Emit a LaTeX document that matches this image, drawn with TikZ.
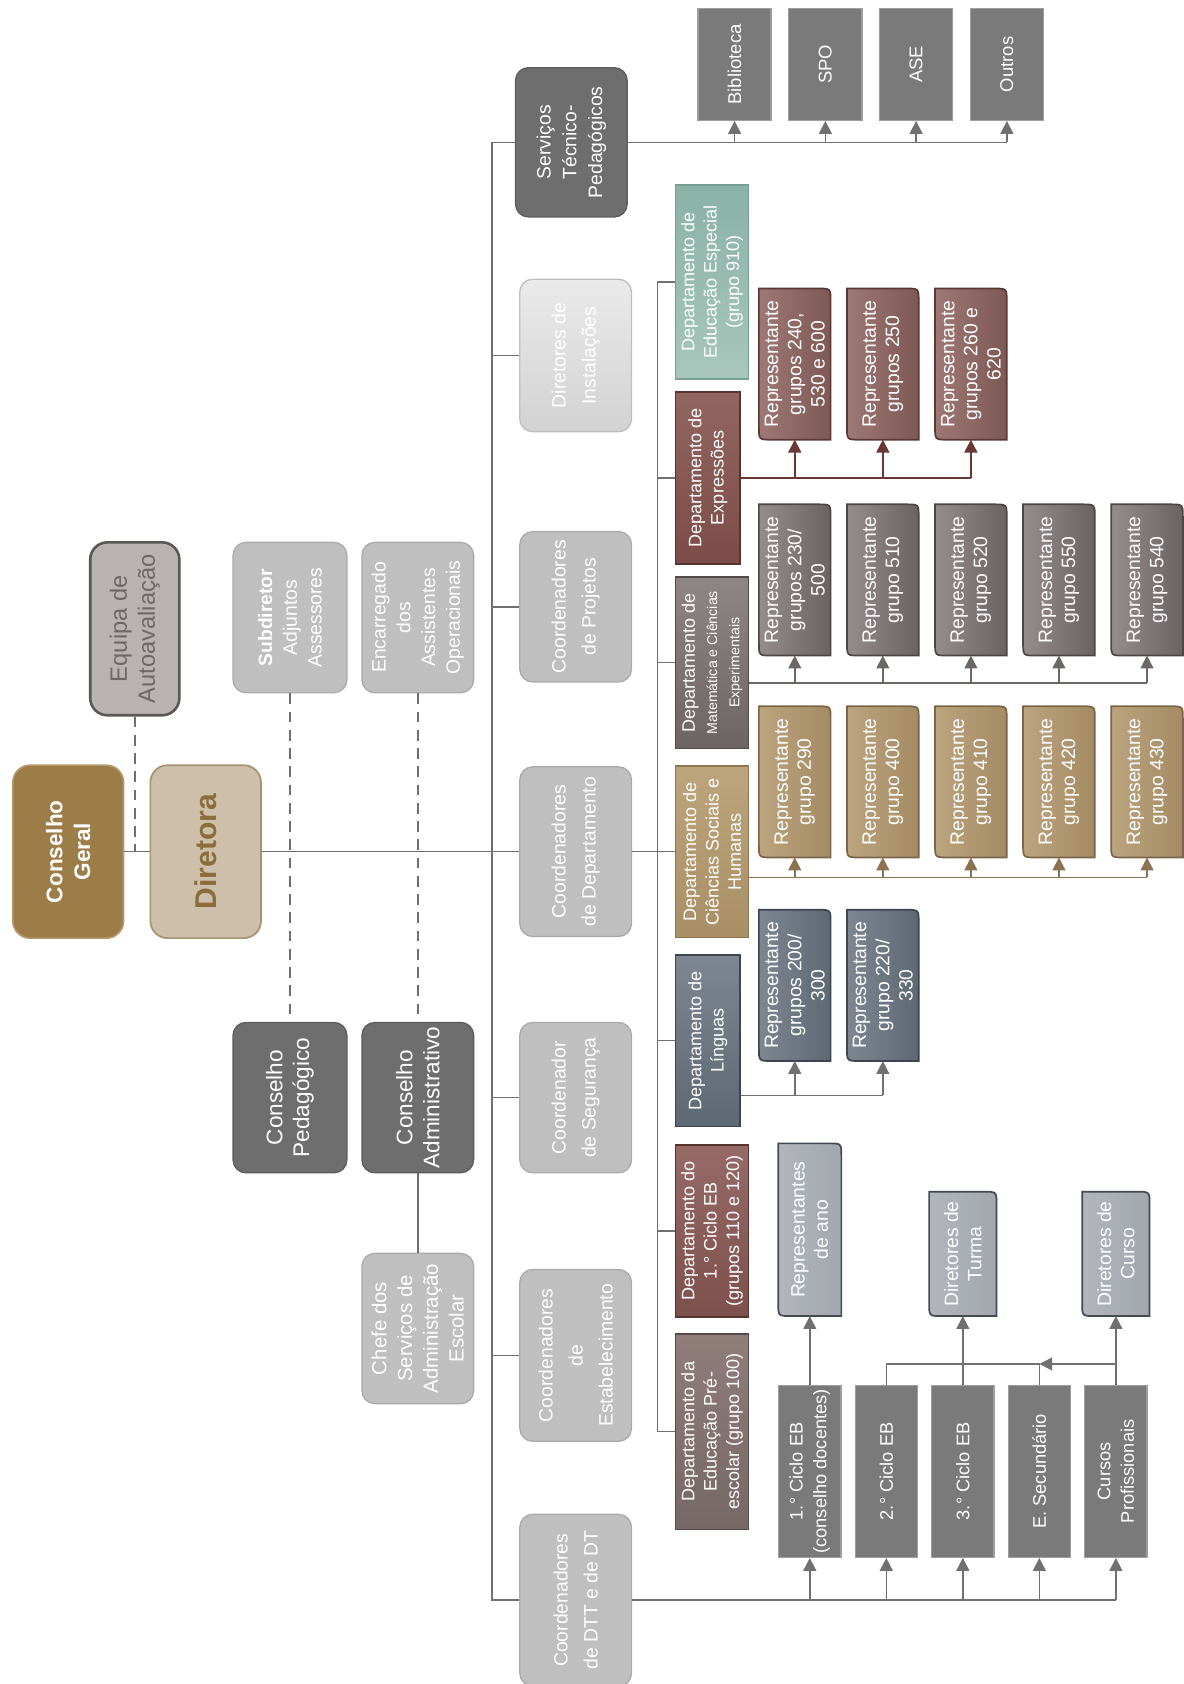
\documentclass[tikz,border=0pt]{standalone}
\usepackage{fontspec}
\setmainfont{Liberation Sans}
\usetikzlibrary{arrows.meta}
\usetikzlibrary{calc}
\usetikzlibrary{backgrounds}

\definecolor{lncol}{HTML}{707070}
\definecolor{cgfill}{HTML}{9C7C47}
\definecolor{cgdraw}{HTML}{B39869}
\definecolor{dirfill}{HTML}{CDBFA9}
\definecolor{dirdraw}{HTML}{A69372}
\definecolor{dirtext}{HTML}{8B6D3B}
\definecolor{eqfill}{HTML}{B8B2B0}
\definecolor{eqdraw}{HTML}{5C5754}
\definecolor{eqtext}{HTML}{6D6765}
\definecolor{ltfill}{HTML}{BFBFBF}
\definecolor{ltdraw}{HTML}{AAAAAA}
\definecolor{instA}{HTML}{EAEAEA}
\definecolor{instB}{HTML}{D2D2D2}
\definecolor{instD}{HTML}{BEBEBE}
\definecolor{dkfill}{HTML}{6E6E6E}
\definecolor{dkdraw}{HTML}{5C5C5C}
\definecolor{sqfill}{HTML}{7A7A7A}
\definecolor{sqdraw}{HTML}{9E9E9E}
\definecolor{tealA}{HTML}{8AB2A6}
\definecolor{tealB}{HTML}{A8C6BC}
\definecolor{tealD}{HTML}{76A093}
\definecolor{exA}{HTML}{936560}
\definecolor{exB}{HTML}{7B4C48}
\definecolor{exD}{HTML}{58332F}
\definecolor{rrA}{HTML}{9E7874}
\definecolor{rrB}{HTML}{7E5854}
\definecolor{rrD}{HTML}{5A3935}
\definecolor{redln}{HTML}{6A3833}
\definecolor{matA}{HTML}{8E8684}
\definecolor{matB}{HTML}{6D6563}
\definecolor{matD}{HTML}{524B49}
\definecolor{rmA}{HTML}{958D8B}
\definecolor{rmB}{HTML}{6B6361}
\definecolor{rmD}{HTML}{4C4644}
\definecolor{matln}{HTML}{6C6664}
\definecolor{tanA}{HTML}{BCA47C}
\definecolor{tanB}{HTML}{A88F66}
\definecolor{tanD}{HTML}{8E7550}
\definecolor{rtA}{HTML}{BBA47E}
\definecolor{rtB}{HTML}{A48B64}
\definecolor{rtD}{HTML}{7A6546}
\definecolor{tanln}{HTML}{8B7351}
\definecolor{slA}{HTML}{7E8791}
\definecolor{slB}{HTML}{5E6872}
\definecolor{slD}{HTML}{3D4550}
\definecolor{cyA}{HTML}{966A66}
\definecolor{cyB}{HTML}{7D504C}
\definecolor{cyD}{HTML}{58342F}
\definecolor{prA}{HTML}{8F7D7A}
\definecolor{prB}{HTML}{756866}
\definecolor{prD}{HTML}{574B49}
\definecolor{bgA}{HTML}{B2B6BC}
\definecolor{bgB}{HTML}{A2A7AE}
\definecolor{bgD}{HTML}{434A53}

\tikzset{
  vbox/.style={rotate=90, align=center, inner sep=1pt, text=white, font=\fontsize{9}{11.5}\selectfont},
  wh/.style 2 args={minimum height={#1*0.5pt}, minimum width={#2*0.5pt}},
  ltbox/.style={vbox, rounded corners=6pt, fill=ltfill, draw=ltdraw, line width=0.6pt},
  cobox/.style={ltbox, font=\fontsize{9}{14}\selectfont},
  dkbox/.style={vbox, rounded corners=6pt, fill=dkfill, draw=dkdraw, line width=0.6pt},
  sqbox/.style={vbox, fill=sqfill, draw=sqdraw, line width=0.6pt, font=\fontsize{8.6}{11}\selectfont},
  dept/.style 2 args={vbox, top color=#1, bottom color=#2, line width=0.8pt, font=\fontsize{8.4}{10.4}\selectfont},
  rep/.style={vbox, wh={66}{140}, font=\fontsize{9}{10.8}\selectfont},
  ln/.style={draw=lncol, line width=0.7pt},
  arr/.style={ln, -{Triangle[length=6pt,width=6pt]}},
  dsh/.style={ln, dash pattern=on 5pt off 3.5pt},
}

% diagonal corners rounded (top right, bottom left)
\newcommand{\repshape}[4]{%
  \shade[left color=#2, right color=#3, draw=#4, line width=0.8pt]
    (#1.north east) -- ($(#1.south east)+(-12,0)$) .. controls (#1.south east) .. ($(#1.south east)+(0,12)$)
    -- (#1.south west) -- ($(#1.north west)+(12,0)$) .. controls (#1.north west) .. ($(#1.north west)+(0,-12)$) -- cycle;}

\begin{document}
\begin{tikzpicture}[x=0.5pt, y=-0.5pt,
    cgbox/.style={vbox, wh={103}{161}, rounded corners=8pt, fill=cgfill, draw=cgdraw, line width=0.8pt, font=\fontsize{10.5}{13}\selectfont\bfseries},
    dirbox/.style={vbox, wh={103}{161}, rounded corners=8pt, fill=dirfill, draw=dirdraw, line width=0.8pt, text=dirtext, font=\fontsize{14}{16}\selectfont\bfseries},
    eqbox/.style={vbox, wh={83}{161}, rounded corners=8pt, fill=eqfill, draw=eqdraw, line width=1.2pt, text=eqtext, font=\fontsize{11}{13}\selectfont}]

  \useasboundingbox (0,0) rectangle (1102,1568);

  % direction
  \node[cgbox] (cg) at (63.5,793) {Conselho\\Geral};
  \node[dirbox] (dir) at (191.5,793) {Diretora};
  \node[eqbox] (equipa) at (125.5,585.5) {Equipa de\\Autoavaliação};
  \node[ltbox, wh={106}{140}] (subdir) at (270,575) {\textbf{Subdiretor}\\Adjuntos\\Assessores};
  \node[ltbox, wh={104}{140}] (encarr) at (389,575) {Encarregado\\dos\\Assistentes\\Operacionais};
  \node[dkbox, wh={106}{140}, font=\fontsize{10.5}{12.5}\selectfont] (cped) at (270,1022) {Conselho\\Pedagógico};
  \node[dkbox, wh={104}{140}, font=\fontsize{10.5}{12.5}\selectfont] (cadm) at (389,1022) {Conselho\\Administrativo};
  \node[ltbox, wh={104}{140}, font=\fontsize{9.5}{12}\selectfont] (chefe) at (389,1237) {Chefe dos\\Serviços de\\Administração\\Escolar};

  % coordenadores
  \coordinate (b1) at (458,0);
  \node[dkbox, wh={104}{139}, font=\fontsize{9}{12}\selectfont] (serv) at (532,132.5) {Serviços\\Técnico-\\Pedagógicos};
  \node[cobox, wh={104}{142}, top color=instA, bottom color=instB, draw=instD] (dinst) at (536,331) {Diretores de\\Instalações};
  \node[cobox, wh={104}{140}] (cproj) at (536,565) {Coordenadores\\de Projetos};
  \node[cobox, wh={104}{158}] (cdep) at (536,793) {Coordenadores\\de Departamento};
  \node[cobox, wh={104}{140}] (cseg) at (536,1022) {Coordenador\\de Segurança};
  \node[cobox, wh={104}{160}] (cest) at (536,1262) {Coordenadores\\de\\Estabelecimento};
  \node[cobox, wh={104}{160}] (cdtt) at (536,1490) {Coordenadores\\de DTT e de DT};

  \foreach \t/\n [count=\i] in {Biblioteca/bib,SPO/spo,ASE/ase,Outros/outros}
    \node[sqbox, wh={68}{104}] (\n) at ({684+84.5*(\i-1)},60) {\t};

  % departamentos
  \coordinate (b2) at (612,0);
  \node[dept={tealA}{tealB}, draw=tealD, wh={68}{181}] (edesp) at (663,262.5) {Departamento de\\Educação Especial\\(grupo 910)};
  \node[dept={exA}{exB}, draw=exD, wh={60}{160}] (expr) at (659,445) {Departamento de\\Expressões};
  \node[dept={matA}{matB}, draw=matD, wh={68}{160}] (mat) at (663,617) {Departamento de\\\fontsize{6.6}{8.5}\selectfont Matemática e Ciências\\\fontsize{6.6}{8.5}\selectfont Experimentais};
  \node[dept={tanA}{tanB}, draw=tanD, wh={68}{160}] (csh) at (663,793) {Departamento de\\Ciências Sociais e\\Humanas};
  \node[dept={slA}{slB}, draw=slD, wh={60}{160}] (ling) at (659,969) {Departamento de\\Línguas};
  \node[dept={cyA}{cyB}, draw=cyD, wh={68}{160}] (cic1) at (663,1146) {Departamento do\\1.° Ciclo EB\\(grupos 110 e 120)};
  \node[dept={prA}{prB}, draw=prD, wh={68}{182}] (pre) at (663,1333) {Departamento da\\Educação Pré-\\escolar (grupo 100)};

  % representantes
  \foreach \g [count=\i] in {{grupos 240,\\530 e 600},{grupos 250},{grupos 260 e\\620}}
    \node[rep] (rE\i) at ({740+82*(\i-1)},339) {Representante\\\g};
  \foreach \g [count=\i] in {{grupos 230/\\500},{grupo 510},{grupo 520},{grupo 550},{grupo 540}}
    \node[rep] (rM\i) at ({740+82*(\i-1)},540) {Representante\\\g};
  \foreach \g [count=\i] in {290,400,410,420,430}
    \node[rep] (rH\i) at ({740+82*(\i-1)},728) {Representante\\grupo \g};
  \foreach \g [count=\i] in {{grupos 200/\\300},{grupo 220/\\330}}
    \node[rep] (rL\i) at ({740+82*(\i-1)},917.5) {Representante\\\g};

  \node[rep, wh={58}{160}] (rano) at (754,1145) {Representantes\\de ano};
  \node[rep, wh={62}{115}] (dturma) at (896.5,1167.5) {Diretores de\\Turma};
  \node[rep, wh={62}{115}] (dcurso) at (1039,1167.5) {Diretores de\\Curso};

  \foreach \t [count=\i] in {{1.° Ciclo EB\\(conselho docentes)},{2.° Ciclo EB},{3.° Ciclo EB},{E. Secundário},{Cursos\\Profissionais}}
    \node[sqbox, wh={58}{160}, font=\fontsize{8.5}{11}\selectfont] (L\i) at ({754+71.25*(\i-1)},1370) {\t};

  % main line
  \draw[ln] (cg) -- (dir);
  \draw[ln] (dir) -- (cdep);
  \draw[ln] (cdep) -- (csh);
  \draw[dsh] (equipa) -- (equipa |- cg);
  \draw[dsh] (subdir) -- (cped);
  \draw[dsh] (encarr) -- (cadm);
  \draw[ln] (cadm) -- (chefe);

  \draw[ln] (serv.north) -- (serv.north -| b1) -- (cdtt.north -| b1) -- (cdtt.north);
  \foreach \n in {dinst,cproj,cseg,cest}
    \draw[ln] (\n.north -| b1) -- (\n.north);

  \draw[ln] (serv) -- (outros |- serv);
  \foreach \n in {bib,spo,ase,outros}
    \draw[arr] (\n |- serv) -- (\n);

  \draw[ln] (edesp.north) -- (edesp.north -| b2) -- (pre.north -| b2) -- (pre.north);
  \foreach \n in {expr,mat,ling,cic1}
    \draw[ln] (\n.north -| b2) -- (\n.north);

  % representantes connectors
  \draw[ln, draw=redln, line width=1pt] (expr) -- (rE3 |- expr);
  \foreach \i in {1,2,3}
    \draw[arr, draw=redln, line width=1pt] (rE\i |- expr) -- (rE\i);

  \coordinate (mline) at (0,636);
  \draw[ln, draw=matln] (mat.south |- mline) -- (rM5 |- mline);
  \foreach \i in {1,...,5}
    \draw[arr, draw=matln] (rM\i |- mline) -- (rM\i);

  \coordinate (hline) at (0,817);
  \draw[ln, draw=tanln] (csh.south |- hline) -- (rH5 |- hline);
  \foreach \i in {1,...,5}
    \draw[arr, draw=tanln] (rH\i |- hline) -- (rH\i);

  \coordinate (gline) at (0,1020);
  \draw[ln] (ling.south |- gline) -- (rL2 |- gline);
  \foreach \i in {1,2}
    \draw[arr] (rL\i |- gline) -- (rL\i);

  % niveis
  \draw[ln] (cdtt) -- (L5 |- cdtt);
  \foreach \i in {1,...,5}
    \draw[arr] (L\i |- cdtt) -- (L\i);
  \draw[arr] (L1) -- (rano);
  \draw[arr] (L3) -- (dturma);
  \draw[arr] (L5) -- (dcurso);
  \coordinate (xline) at (0,1270);
  \draw[arr] (L5 |- xline) -- (L4 |- xline);
  \draw[ln] (L4) -- (L4 |- xline) -- (L2 |- xline) -- (L2);

  \begin{scope}[on background layer]
    \fill[white] (0,0) rectangle (1102,1568);
    \foreach \i in {1,2,3} {\repshape{rE\i}{rrA}{rrB}{rrD}}
    \foreach \i in {1,...,5} {\repshape{rM\i}{rmA}{rmB}{rmD}}
    \foreach \i in {1,...,5} {\repshape{rH\i}{rtA}{rtB}{rtD}}
    \foreach \i in {1,2} {\repshape{rL\i}{slA}{slB}{slD}}
    \foreach \n in {rano,dturma,dcurso} {\repshape{\n}{bgA}{bgB}{bgD}}
  \end{scope}

\end{tikzpicture}
\end{document}
